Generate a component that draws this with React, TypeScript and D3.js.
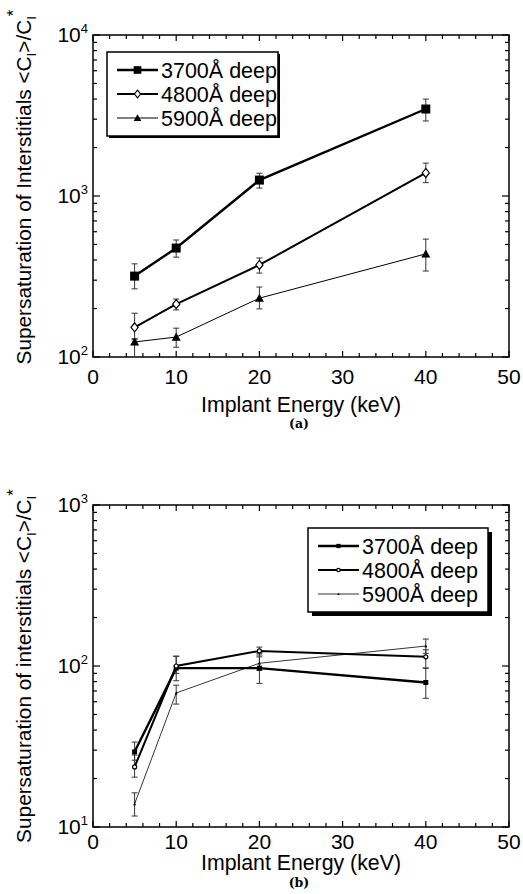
import React from "react";
import * as d3 from "d3";

const W = 523;
const H = 894;
const FONT = "'Liberation Sans', Arial, Helvetica, sans-serif";

// implant energies (keV)
const energies = [5, 10, 20, 40];
const seriesNames = ["3700Å deep", "4800Å deep", "5900Å deep"];

// panel (a): value, error low, error high
const a3700 = [318, 475, 1256, 3470];
const a3700Lo = [265, 417, 1120, 2925];
const a3700Hi = [379, 533, 1385, 4000];
const a4800 = [153, 213, 373, 1390];
const a4800Lo = [128, 196, 332, 1210];
const a4800Hi = [187, 229, 412, 1600];
const a5900 = [124, 133, 232, 437];
const a5900Lo = [100, 115, 199, 342];
const a5900Hi = [130, 151, 272, 540];

// panel (b)
const b3700 = [29.3, 97, 97, 79];
const b3700Lo = [26, 81, 78, 63];
const b3700Hi = [33.7, 115, 120, 97];
const b4800 = [23.6, 100, 124, 114];
const b4800Lo = [20.4, 90, 117, 97];
const b4800Hi = [28, 115, 131, 126];
const b5900 = [13.9, 68, 104, 133];
const b5900Lo = [11.7, 58, 94, 120];
const b5900Hi = [16.3, 76, 114, 147];

type Series = { name: string; v: number[]; lo: number[]; hi: number[]; width: number; marker: string; size: number };

const seriesA: Series[] = [
  { name: seriesNames[0], v: a3700, lo: a3700Lo, hi: a3700Hi, width: 2.4, marker: "square", size: 9 },
  { name: seriesNames[1], v: a4800, lo: a4800Lo, hi: a4800Hi, width: 2, marker: "diamond", size: 9 },
  { name: seriesNames[2], v: a5900, lo: a5900Lo, hi: a5900Hi, width: 1, marker: "triangle", size: 9 },
];
const seriesB: Series[] = [
  { name: seriesNames[0], v: b3700, lo: b3700Lo, hi: b3700Hi, width: 2.4, marker: "square", size: 5 },
  { name: seriesNames[1], v: b4800, lo: b4800Lo, hi: b4800Hi, width: 2, marker: "circle", size: 4 },
  { name: seriesNames[2], v: b5900, lo: b5900Lo, hi: b5900Hi, width: 0.8, marker: "triangle", size: 3 },
];

const xTicks = [0, 10, 20, 30, 40, 50];

function Marker({ kind, x, y, size }: { kind: string; x: number; y: number; size: number }) {
  const s = size / 2;
  if (kind === "square") return <rect x={x - s} y={y - s} width={size} height={size} fill="#000" />;
  if (kind === "diamond")
    return <path d={`M${x},${y - s}L${x + s * 0.8},${y}L${x},${y + s}L${x - s * 0.8},${y}Z`} fill="#fff" stroke="#000" strokeWidth={1.2} />;
  if (kind === "circle") return <circle cx={x} cy={y} r={s} fill="#fff" stroke="#000" strokeWidth={1.2} />;
  return <path d={`M${x},${y - s}L${x + s},${y + s * 0.8}L${x - s},${y + s * 0.8}Z`} fill="#000" />;
}

function Panel(props: {
  top: number; bottom: number; yMin: number; yMax: number; series: Series[];
  legend: { x: number; y: number; w: number; h: number; shadow: number };
  ylabel: string; tag: string; offs: [number, number, number, number];
}) {
  const left = 93, right = 509;
  const { top, bottom, yMin, yMax, series, legend, offs } = props;
  const x = d3.scaleLinear().domain([0, 50]).range([left, right]);
  const y = d3.scaleLog().domain([yMin, yMax]).range([bottom, top]);
  const line = d3.line<number>().x((_, i) => x(energies[i])).y((d) => y(d));

  const minorX = d3.range(0, 51, 2);
  const logTicks: { v: number; major: boolean }[] = [];
  for (let e = Math.log10(yMin); e <= Math.log10(yMax); e++) {
    for (let k = 1; k <= 9; k++) {
      const v = k * Math.pow(10, e);
      if (v <= yMax * 1.0001) logTicks.push({ v, major: k === 1 });
    }
  }
  const decades = d3.range(Math.log10(yMin), Math.log10(yMax) + 1);
  const midY = (top + bottom) / 2 + offs[3];

  return (
    <g>
      {/* frame */}
      <rect x={left} y={top} width={right - left} height={bottom - top} fill="none" stroke="#000" strokeWidth={1.5} />
      {minorX.map((t) => {
        const len = t % 10 === 0 ? 6 : 4;
        return (
          <g key={"x" + t}>
            <line x1={x(t)} x2={x(t)} y1={bottom} y2={bottom - len} stroke="#000" strokeWidth={1.2} />
            <line x1={x(t)} x2={x(t)} y1={top} y2={top + len} stroke="#000" strokeWidth={1.2} />
          </g>
        );
      })}
      {logTicks.map((t, i) => {
        const len = t.major ? 7 : 4;
        return (
          <g key={"y" + i}>
            <line x1={left} x2={left + len} y1={y(t.v)} y2={y(t.v)} stroke="#000" strokeWidth={1.2} />
            <line x1={right} x2={right - len} y1={y(t.v)} y2={y(t.v)} stroke="#000" strokeWidth={1.2} />
          </g>
        );
      })}
      {xTicks.map((t) => (
        <text key={"xl" + t} x={x(t)} y={bottom + offs[0]} textAnchor="middle" fontSize={21} fontFamily={FONT}>
          {t}
        </text>
      ))}
      {decades.map((e) => (
        <text key={"yl" + e} x={left - 5} y={y(Math.pow(10, e)) + 7} textAnchor="end" fontSize={21} fontFamily={FONT}>
          10<tspan dy={-9} fontSize={13}>{e}</tspan>
        </text>
      ))}
      <text x={(left + right) / 2} y={bottom + offs[1]} textAnchor="middle" fontSize={21.3} fontFamily={FONT}>
        Implant Energy (keV)
      </text>
      <text x={(left + right) / 2 - 2} y={bottom + offs[2]} textAnchor="middle" fontSize={12.5} fontWeight="bold" fontFamily="'DejaVu Serif', 'Liberation Serif', serif">
        {props.tag}
      </text>
      <text transform={`translate(31,${midY}) rotate(-90)`} textAnchor="middle" fontSize={20.8} fontFamily={FONT}>
        {props.ylabel} &lt;C<tspan dy={5} fontSize={13}>I</tspan>
        <tspan dy={-5}>&gt;/C</tspan>
        <tspan dy={5} fontSize={13}>I</tspan>
        <tspan dy={-17} fontSize={17}>*</tspan>
      </text>

      {/* error bars */}
      {series.map((s, si) =>
        s.v.map((_, i) => {
          const cx = x(energies[i]);
          const yl = Math.min(y(s.lo[i]), bottom);
          return (
            <g key={"e" + si + i} stroke="#333" strokeWidth={1}>
              <line x1={cx} x2={cx} y1={y(s.hi[i])} y2={yl} />
              <line x1={cx - 3} x2={cx + 3} y1={y(s.hi[i])} y2={y(s.hi[i])} />
              {y(s.lo[i]) < bottom && <line x1={cx - 3} x2={cx + 3} y1={yl} y2={yl} />}
            </g>
          );
        })
      )}
      {series.map((s, si) => (
        <path key={"l" + si} d={line(s.v) || ""} fill="none" stroke="#000" strokeWidth={s.width} />
      ))}
      {series.map((s, si) =>
        s.v.map((d, i) => <Marker key={"m" + si + i} kind={s.marker} x={x(energies[i])} y={y(d)} size={s.size} />)
      )}

      {/* legend */}
      <rect x={legend.x + legend.shadow} y={legend.y + legend.shadow} width={legend.w} height={legend.h} fill="#000" />
      <rect x={legend.x} y={legend.y} width={legend.w} height={legend.h} fill="#fff" stroke="#000" strokeWidth={1.5} />
      {series.map((s, si) => {
        const ly = legend.y + 18 + si * 24;
        const lx0 = legend.x + 10;
        const lx1 = lx0 + 41;
        return (
          <g key={"lg" + si}>
            <line x1={lx0} x2={lx1} y1={ly} y2={ly} stroke="#000" strokeWidth={s.width} />
            <Marker kind={s.marker} x={(lx0 + lx1) / 2} y={ly} size={s.size * 0.85} />
            <text x={lx1 + 3} y={ly + 7.5} fontSize={21.5} fontFamily={FONT}>
              {s.name}
            </text>
          </g>
        );
      })}
    </g>
  );
}

export default function App() {
  return (
    <svg width={W} height={H} style={{ position: "absolute", left: 0, top: 0, background: "#fff" }}>
      <rect width={W} height={H} fill="#fff" />
      <Panel
        top={35}
        bottom={357}
        yMin={100}
        yMax={10000}
        series={seriesA}
        legend={{ x: 107, y: 52, w: 171, h: 84, shadow: 2 }}
        ylabel="Supersaturation of Interstitials"
        tag="(a)"
        offs={[27, 55, 71, -9]}
      />
      <Panel
        top={505}
        bottom={827}
        yMin={10}
        yMax={1000}
        series={seriesB}
        legend={{ x: 308, y: 528, w: 180, h: 84, shadow: 4 }}
        ylabel="Supersaturation of interstitials"
        tag="(b)"
        offs={[22, 43, 60, 0]}
      />
    </svg>
  );
}
